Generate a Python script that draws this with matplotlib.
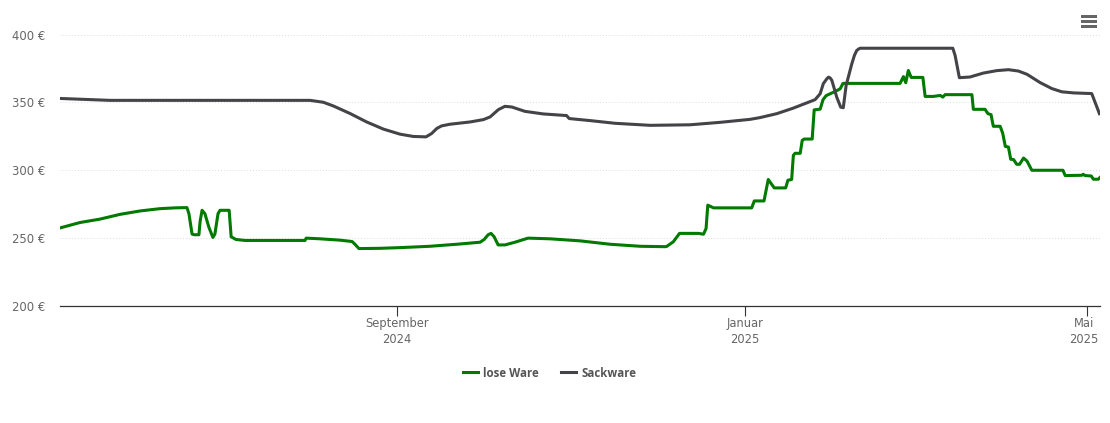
import matplotlib.pyplot as plt
from matplotlib.patches import Rectangle
from matplotlib.transforms import ScaledTranslation

# days since 2024-05-06, prices in euro
lose_days = [0, 7, 14, 21, 28, 35, 40.3, 44.5, 45.2, 46.3, 47, 48.7, 49.1, 49.8, 50.8, 52.2, 53.6, 54.3, 55.4, 56.1,
             59.3, 60, 61.7, 64.9, 85.9, 86.3, 91.2, 98.2, 102.4, 103.4, 104.8, 112.2, 119.2, 129.7, 140.3, 147.3,
             148.7, 150.1, 151.1, 152.2, 153.6, 156, 159.5, 164.1, 171.8, 182.3, 192.8, 203.4, 212.1, 212.7, 215,
             217.2, 223.8, 225.6, 226.5, 227.1, 229.1, 242.5, 243.4, 246.8, 248.3, 250.4, 254.4, 255.2, 256.5, 257.1,
             257.7, 259.5, 260.2, 260.9, 263.7, 264.4, 266.5, 267.5, 268.6, 271.7, 273.5, 274.5,
             294.5, 295.7, 296.5, 297.4, 298.4, 302.5, 303.3, 306.1, 308.6, 309.5, 310.3, 319.7, 320.2, 324.3, 325.3,
             326.4, 327.2, 329.6, 330.5, 331.4, 332.5, 333.3, 334.3, 335.4, 336.4, 337.8, 339, 340.7, 351.6, 352.4,
             358.2, 358.7, 359.4, 361.5, 362.3, 364, 364.7]
lose_price = [257.5, 261.5, 264, 267.5, 270, 271.7, 272.3, 272.5, 268, 253, 252.5, 252.5, 262, 270.5, 268, 258, 250.5,
              253, 268, 270.5, 270.5, 251, 249, 248.3, 248.3, 250, 249.5, 248.5, 247.5, 245.5, 242.3, 242.5, 243, 244,
              245.7, 247, 249, 252.5, 253.5, 251, 245, 245, 247, 250, 249.5, 248, 245.5, 244, 243.7, 243.9, 247.3,
              253.5, 253.5, 252.9, 257.1, 274.3, 272.3, 272.3, 277.4, 277.4, 293.2, 287, 287, 292.7, 293.2, 311,
              312.5, 312.5, 322, 323, 323, 344.5, 345, 352, 355, 358, 360, 364, 364, 369, 364.5, 373.5, 368.4, 368.4,
              354.4, 354.4, 355.1, 353.9, 355.7, 355.7, 344.9, 344.9, 341.7, 341, 332.4, 332.4, 327.2, 317.6, 317.1,
              308.1, 307.9, 304.4, 304.4, 309, 306.8, 300, 300, 296.1, 296.3, 297, 296.1, 295.8, 293.4, 293.4, 294.9]

sack_days = [0, 17.5, 84.2, 87.7, 92.3, 95.8, 101.7, 107.5, 113.4, 119.2, 123.9, 128.3, 130.3, 132.1, 133.8, 136.7,
             143.8, 148.4, 150.8, 153.7, 156, 158.4, 163, 169.4, 177.6, 178.5, 185.8, 194.6, 206.9, 220.9, 231.4,
             241.9, 245.4, 251.3, 257.1, 264.7, 266.5, 267.6, 268.8, 269.4, 270, 270.6, 272.3, 273.7, 274.6, 275.6,
             277.6, 278.5, 279.3, 279.9, 280.5, 313, 313.8, 315.3, 319, 323.7, 328.4, 332.5, 336, 339, 343.6, 347.7,
             351.2, 355.3, 361.7, 364.4]
sack_price = [352.9, 351.5, 351.5, 351.5, 350.1, 347.4, 341.8, 335.6, 330.3, 326.6, 324.9, 324.6, 327.1, 330.8, 332.7,
              333.9, 335.6, 337.3, 339.3, 344.7, 347.1, 346.6, 343.4, 341.5, 340.3, 338.1, 336.6, 334.6, 333.1, 333.5,
              335.3, 337.5, 338.8, 341.7, 345.8, 352, 356.4, 363.8, 367.3, 368.6, 368, 366.2, 353.9, 346.5, 346.1,
              362.5, 378.5, 384.6, 388.2, 389.2, 389.9, 389.9, 384.6, 368.2, 368.7, 371.6, 373.4, 374.1, 373.1, 370.7,
              364.6, 360.2, 357.8, 357, 356.5, 341.7]

y_ticks = [200, 250, 300, 350, 400]
x_ticks = [118, 240, 360]
x_labels = ["September\n2024", "Januar\n2025", "Mai\n2025"]

W, H = 1110, 423
fig = plt.figure(figsize=(W / 100, H / 100), dpi=100)
ax = fig.add_axes([60 / W, 1 - 306 / H, 1040 / W, 286 / H])

ax.plot(lose_days, lose_price, color="#007a00", lw=2.2, label="lose Ware", solid_joinstyle="round", zorder=3)
ax.plot(sack_days, sack_price, color="#434348", lw=2.2, label="Sackware", solid_joinstyle="round", zorder=3)

ax.set_xlim(0, 364.6)
ax.set_ylim(200, 410.7)
ax.set_yticks(y_ticks)
ax.set_yticklabels([f"{v} €" for v in y_ticks])
ax.set_xticks(x_ticks)
ax.set_xticklabels(x_labels, linespacing=1.3)
ax.tick_params(axis="y", length=0, pad=10.8, labelsize=8.4, labelcolor="#666666")
ax.tick_params(axis="x", length=7.2, width=0.8, color="#333333", pad=1, labelsize=8.3, labelcolor="#666666")
ax.grid(axis="y", color="#dddddd", lw=0.7, ls=(0, (1, 2)))
ax.set_axisbelow(True)
for side in ["top", "right", "left"]:
    ax.spines[side].set_visible(False)
ax.spines["bottom"].set_color("#333333")
ax.spines["bottom"].set_linewidth(0.9)

# last label sits a little left of its tick
last = ax.get_xticklabels()[-1]
last.set_transform(last.get_transform() + ScaledTranslation(-3 / 100, 0, fig.dpi_scale_trans))

fig.legend(loc="center", bbox_to_anchor=(549.5 / W, 1 - 373 / H), ncol=2, frameon=False,
           handlelength=1.3, handletextpad=0.43, columnspacing=2.0, labelcolor="#555555",
           prop={"family": "Open Sans", "size": 8.3, "weight": "bold"})

# menu icon
for y in [15, 20, 25]:
    fig.add_artist(Rectangle((1080.5 / W, 1 - (y + 3) / H), 16.5 / W, 3 / H,
                             transform=fig.transFigure, fc="#666666", ec="none"))

fig.savefig("out.png", dpi=100)
